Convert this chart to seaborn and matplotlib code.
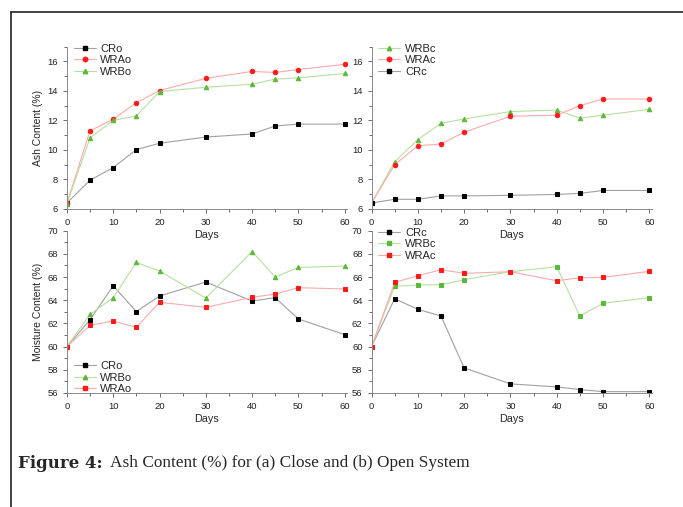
import matplotlib
matplotlib.use('Agg')
import matplotlib.pyplot as plt
import seaborn as sns
from matplotlib.lines import Line2D
from matplotlib.ticker import MultipleLocator

# Days of sampling
days = [0, 5, 10, 15, 20, 30, 40, 45, 50, 60]

# Ash content (%) - open system
ash_cro = [6.4, 7.95, 8.8, 10.02, 10.45, 10.87, 11.08, 11.62, 11.75, 11.75]
ash_wrao = [6.4, 11.3, 12.08, 13.2, 14.02, 14.85, 15.32, 15.25, 15.45, 15.8]
ash_wrbo = [6.35, 10.82, 12.0, 12.3, 13.95, 14.25, 14.45, 14.8, 14.88, 15.18]

# Ash content (%) - closed system
ash_wrbc = [6.4, 9.2, 10.7, 11.8, 12.1, 12.6, 12.7, 12.15, 12.35, 12.75]
ash_wrac = [6.4, 9.0, 10.28, 10.4, 11.2, 12.28, 12.35, 13.0, 13.45, 13.45]
ash_crc = [6.4, 6.65, 6.65, 6.88, 6.88, 6.92, 6.98, 7.05, 7.25, 7.25]

# Moisture content (%) - open system
moist_cro = [60.0, 62.32, 65.25, 63.02, 64.36, 65.57, 63.93, 64.22, 62.38, 61.03]
moist_wrbo = [60.0, 62.78, 64.22, 67.26, 66.52, 64.19, 68.2, 66.0, 66.83, 66.95]
moist_wrao = [60.0, 61.83, 62.21, 61.66, 63.82, 63.39, 64.25, 64.53, 65.08, 64.97]

# Moisture content (%) - closed system
moist_crc = [60.0, 64.13, 63.21, 62.64, 58.16, 56.78, 56.52, 56.29, 56.11, 56.11]
moist_wrbc = [60.0, 65.2, 65.31, 65.34, 65.77, 66.46, 66.89, 62.64, 63.73, 64.22]
moist_wrac = [60.0, 65.54, 66.11, 66.63, 66.32, 66.46, 65.68, 65.94, 65.97, 66.49]

sns.set_theme(style="ticks")
plt.rcParams['font.family'] = ['Liberation Sans', 'DejaVu Sans']

BLACK, RED, GREEN = '#000000', '#ff1a1a', '#5cb83a'
LINE = {BLACK: '#a0a0a0', RED: '#ffaaaa', GREEN: '#b5e0a0'}

fig = plt.figure(figsize=(6.83, 5.07), dpi=100)

ax_tl = fig.add_axes([0.098, 0.588, 0.410, 0.320])
ax_tr = fig.add_axes([0.544, 0.588, 0.410, 0.320])
ax_bl = fig.add_axes([0.098, 0.225, 0.410, 0.320])
ax_br = fig.add_axes([0.544, 0.225, 0.410, 0.320])

panels = [
    (ax_tl, [('CRo', ash_cro, BLACK, 's'), ('WRAo', ash_wrao, RED, 'o'), ('WRBo', ash_wrbo, GREEN, '^')]),
    (ax_tr, [('WRBc', ash_wrbc, GREEN, '^'), ('WRAc', ash_wrac, RED, 'o'), ('CRc', ash_crc, BLACK, 's')]),
    (ax_bl, [('CRo', moist_cro, BLACK, 's'), ('WRBo', moist_wrbo, GREEN, '^'), ('WRAo', moist_wrao, RED, 's')]),
    (ax_br, [('CRc', moist_crc, BLACK, 's'), ('WRBc', moist_wrbc, GREEN, 's'), ('WRAc', moist_wrac, RED, 's')]),
]

for ax, series in panels:
    ax.set_facecolor('none')
    handles = []
    for name, vals, col, mk in series:
        sns.lineplot(x=days, y=vals, ax=ax, color=LINE[col], linewidth=0.8,
                     marker=mk, markersize=3.2, markerfacecolor=col, markeredgecolor=col)
        handles.append(Line2D([], [], color=LINE[col], linewidth=0.8, marker=mk,
                              markersize=3.2, markerfacecolor=col, markeredgecolor=col, label=name))
    if ax is ax_bl:
        loc, anchor = 'lower left', (0.0, -0.05)
    else:
        loc, anchor = 'upper left', (0.0, 1.06)
    ax.legend(handles=handles, loc=loc, bbox_to_anchor=anchor, frameon=False, fontsize=8,
              handlelength=2.0, handletextpad=0.4, labelspacing=0.15, borderaxespad=0.2)
    ax.set_xlim(0, 60.5)
    ax.xaxis.set_major_locator(MultipleLocator(10))
    ax.xaxis.set_minor_locator(MultipleLocator(5))
    ax.yaxis.set_major_locator(MultipleLocator(2))
    ax.yaxis.set_minor_locator(MultipleLocator(1))
    ax.tick_params(which='both', direction='out', labelsize=6.8, colors='#555555',
                   labelcolor='#222222', width=0.6)
    ax.tick_params(which='major', length=3)
    ax.tick_params(which='minor', length=2)
    for side in ['top', 'right']:
        ax.spines[side].set_visible(False)
    for side in ['left', 'bottom']:
        ax.spines[side].set_color('#888888')
        ax.spines[side].set_linewidth(0.7)
    ax.set_xlabel('Days', fontsize=7.8, labelpad=2)
    ax.set_ylabel('')

for ax in [ax_tl, ax_tr]:
    ax.set_ylim(6, 17)
for ax in [ax_bl, ax_br]:
    ax.set_ylim(56, 70)

ax_tl.set_ylabel('Ash Content (%)', fontsize=7.5, labelpad=3)
ax_bl.set_ylabel('Moisture Content (%)', fontsize=7.5, labelpad=3)

# frame of the figure box
fig.add_artist(Line2D([11 / 683, 1.0], [1 - 12 / 507, 1 - 12 / 507], color='#222222', linewidth=1.2))
fig.add_artist(Line2D([11 / 683, 11 / 683], [0.0, 1 - 12 / 507], color='#222222', linewidth=1.2))

# caption
fig.text(18 / 683, 1 - 463 / 507, 'Figure 4:', fontsize=12, fontweight='bold',
         family=['DejaVu Serif', 'Liberation Serif'], va='center', ha='left')
fig.text(110 / 683, 1 - 463 / 507, 'Ash Content (%) for (a) Close and (b) Open System', fontsize=12.4,
         family=['Liberation Serif', 'DejaVu Serif'], va='center', ha='left')

fig.savefig('out.png', dpi=100)
